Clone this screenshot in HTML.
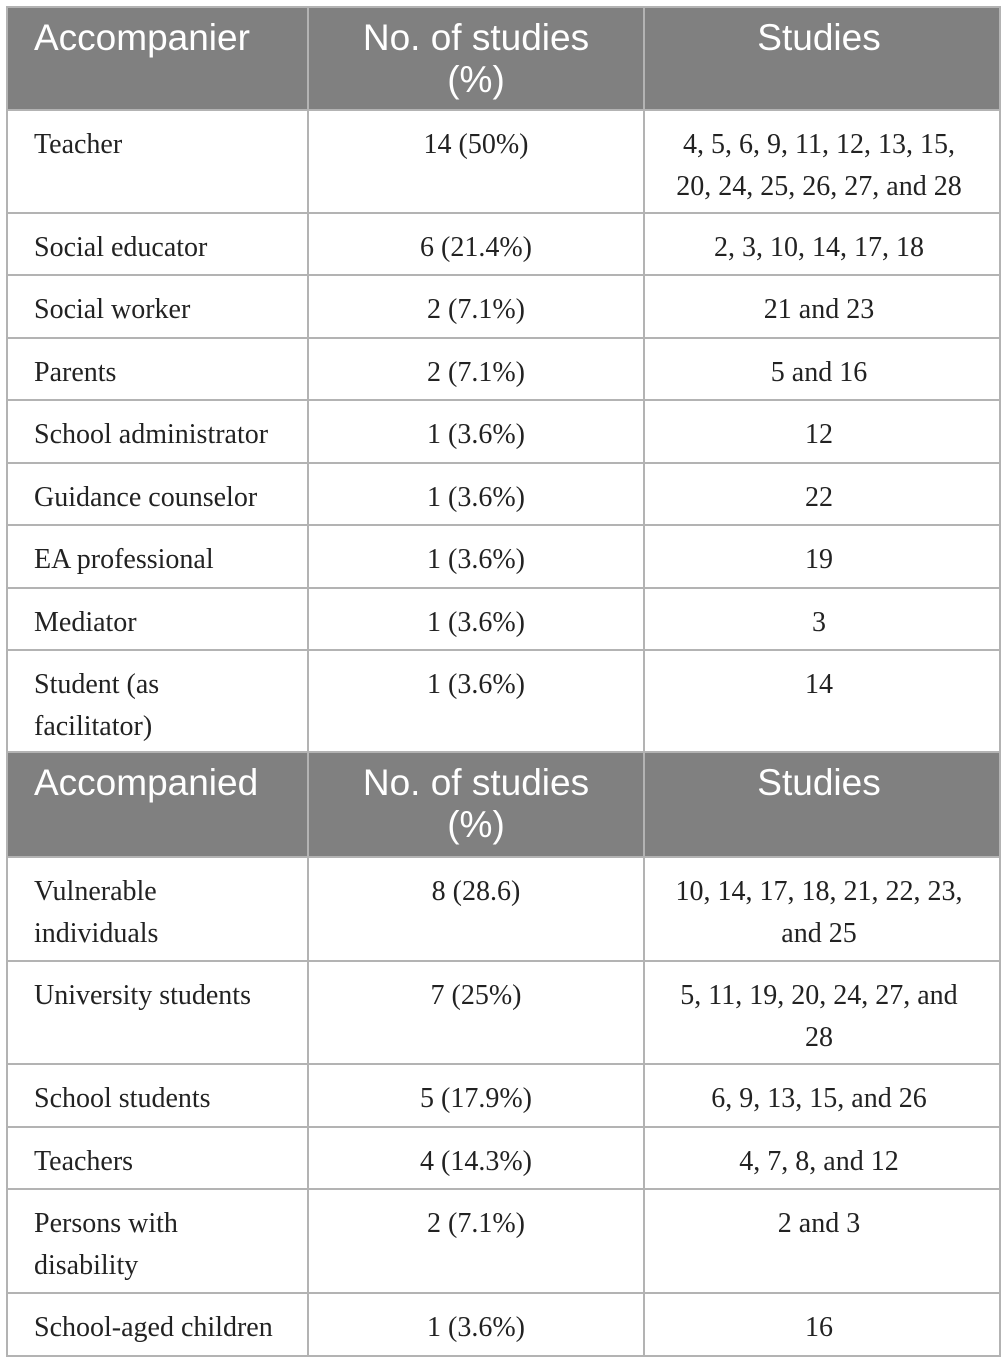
<!DOCTYPE html>
<html><head><meta charset="utf-8"><style>
body{margin:0;background:#fff;width:1003px;height:1362px;overflow:hidden}
table{position:absolute;left:6px;top:6px;border-collapse:collapse;table-layout:fixed;width:993px}
td,th{border:2px solid #b3b3b3;padding:0;vertical-align:top;white-space:nowrap}
th{background:#808080;color:#fff;font-family:"Liberation Sans",sans-serif;font-weight:normal;font-size:37px;line-height:42px;padding-top:9px}
td{font-family:"Liberation Serif",serif;font-size:28px;line-height:42px;color:#222;padding-top:13px}
.l{text-align:left;padding-left:26px}
.c{text-align:center}
.r{padding-right:6px}
</style></head><body>
<table>
<colgroup><col style="width:301px"><col style="width:336px"><col style="width:356px"></colgroup>
<tr style="height:103px"><th class="l">Accompanier</th><th class="c">No. of studies<br>(%)</th><th class="c r">Studies</th></tr>
<tr style="height:103px"><td class="l">Teacher</td><td class="c">14 (50%)</td><td class="c r">4, 5, 6, 9, 11, 12, 13, 15,<br>20, 24, 25, 26, 27, and 28</td></tr>
<tr style="height:62px"><td class="l">Social educator</td><td class="c">6 (21.4%)</td><td class="c r">2, 3, 10, 14, 17, 18</td></tr>
<tr style="height:63px"><td class="l">Social worker</td><td class="c">2 (7.1%)</td><td class="c r">21 and 23</td></tr>
<tr style="height:62px"><td class="l">Parents</td><td class="c">2 (7.1%)</td><td class="c r">5 and 16</td></tr>
<tr style="height:63px"><td class="l">School administrator</td><td class="c">1 (3.6%)</td><td class="c r">12</td></tr>
<tr style="height:62px"><td class="l">Guidance counselor</td><td class="c">1 (3.6%)</td><td class="c r">22</td></tr>
<tr style="height:63px"><td class="l">EA professional</td><td class="c">1 (3.6%)</td><td class="c r">19</td></tr>
<tr style="height:62px"><td class="l">Mediator</td><td class="c">1 (3.6%)</td><td class="c r">3</td></tr>
<tr style="height:102px"><td class="l">Student (as<br>facilitator)</td><td class="c">1 (3.6%)</td><td class="c r">14</td></tr>
<tr style="height:105px"><th class="l">Accompanied</th><th class="c">No. of studies<br>(%)</th><th class="c r">Studies</th></tr>
<tr style="height:104px"><td class="l">Vulnerable<br>individuals</td><td class="c">8 (28.6)</td><td class="c r">10, 14, 17, 18, 21, 22, 23,<br>and 25</td></tr>
<tr style="height:103px"><td class="l">University students</td><td class="c">7 (25%)</td><td class="c r">5, 11, 19, 20, 24, 27, and<br>28</td></tr>
<tr style="height:63px"><td class="l">School students</td><td class="c">5 (17.9%)</td><td class="c r">6, 9, 13, 15, and 26</td></tr>
<tr style="height:62px"><td class="l">Teachers</td><td class="c">4 (14.3%)</td><td class="c r">4, 7, 8, and 12</td></tr>
<tr style="height:104px"><td class="l">Persons with<br>disability</td><td class="c">2 (7.1%)</td><td class="c r">2 and 3</td></tr>
<tr style="height:63px"><td class="l">School-aged children</td><td class="c">1 (3.6%)</td><td class="c r">16</td></tr>
</table>
</body></html>
